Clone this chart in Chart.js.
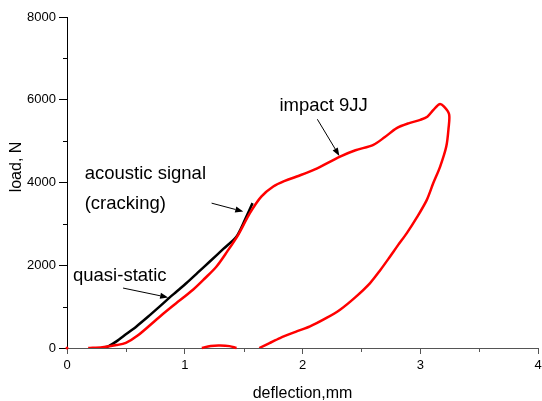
<!DOCTYPE html>
<html><head><meta charset="utf-8">
<script src="https://cdn.jsdelivr.net/npm/chart.js@4.4.1/dist/chart.umd.min.js"></script>
<style>html,body{margin:0;padding:0;background:#fff}</style>
</head><body>
<canvas id="c" width="542" height="401"></canvas>
<script>
// ---- data ----
const impactX = [0.18,0.30,0.42,0.50,0.60,0.79,0.90,1.07,1.17,1.27,1.36,1.454,1.553,1.65,1.752,1.85,1.951,2.10,2.319,2.45,2.602,2.70,2.80,2.90,3.00,3.06,3.112,3.163,3.20,3.245,3.24,3.221,3.169,3.11,3.056,2.97,2.886,2.81,2.744,2.66,2.574,2.45,2.319,2.20,2.064,1.95,1.809,1.72,1.633];
const impactY = [0,20,70,125,300,763,1020,1408,1680,1971,2330,2736,3260,3660,3903,4040,4144,4310,4627,4780,4910,5100,5313,5430,5513,5590,5755,5892,5840,5650,5300,4868,4385,3980,3581,3150,2777,2480,2212,1880,1570,1230,925,720,522,400,241,120,0];
const reboundX = [1.44,1.38,1.30,1.22,1.145];
const reboundY = [0,45,60,50,0];
const quasiX = [0.298,0.35,0.42,0.50,0.59,0.69,0.788,0.90,1.015,1.11,1.213,1.33,1.44,1.511,1.576];
const quasiY = [0,40,160,330,522,760,1005,1290,1570,1820,2091,2400,2695,3098,3501];
const xTickValues = [0,1,2,3,4];
const yTickValues = [0,2000,4000,6000,8000];
const xMinorTicks = [0.5,1.5,2.5,3.5];
const yMinorTicks = [1000,3000,5000,7000];
const xTitle = 'deflection,mm';
const yTitle = 'load, N';
// annotations: text anchors and arrows in data coordinates
const labels = [
  {lines:['impact 9JJ'], x:1.804, y:5718},
  {lines:['acoustic signal','(cracking)'], x:0.15, y:4081, dy:3351},
  {lines:['quasi-static'], x:0.051, y:1608}
];
const arrows = [
  {x1:2.126,y1:5529,x2:2.313,y2:4643},
  {x1:1.228,y1:3501,x2:1.497,y2:3298},
  {x1:0.476,y1:1449,x2:0.859,y2:1222}
];

const pts = (xs, ys) => xs.map((x,i)=>({x:x, y:ys[i]}));
const FONT = "'Liberation Sans', Arial, sans-serif";

const extras = {
  id:'extras',
  afterDraw(chart){
    const ctx = chart.ctx, xs = chart.scales.x, ys = chart.scales.y;
    const a = chart.chartArea;
    ctx.save();
    ctx.lineWidth = 1;
    ctx.strokeStyle = '#555';
    xMinorTicks.forEach(v=>{
      const px = Math.round(xs.getPixelForValue(v))+0.5;
      ctx.beginPath(); ctx.moveTo(px, a.bottom); ctx.lineTo(px, a.bottom+4); ctx.stroke();
    });
    ctx.strokeStyle = '#000';
    yMinorTicks.forEach(v=>{
      const py = Math.round(ys.getPixelForValue(v))+0.5;
      ctx.beginPath(); ctx.moveTo(a.left-4, py); ctx.lineTo(a.left, py); ctx.stroke();
    });
    ctx.fillStyle = '#000';
    ctx.font = '18.5px ' + FONT;
    ctx.textAlign = 'left';
    ctx.textBaseline = 'alphabetic';
    labels.forEach(l=>{
      const px = xs.getPixelForValue(l.x);
      ctx.fillText(l.lines[0], px, ys.getPixelForValue(l.y));
      if (l.lines[1]) ctx.fillText(l.lines[1], px, ys.getPixelForValue(l.dy));
    });
    arrows.forEach(r=>{
      const x1 = xs.getPixelForValue(r.x1), y1 = ys.getPixelForValue(r.y1);
      const x2 = xs.getPixelForValue(r.x2), y2 = ys.getPixelForValue(r.y2);
      const ang = Math.atan2(y2-y1, x2-x1);
      const hl = 8, hw = 3;
      const bx = x2 - hl*Math.cos(ang), by = y2 - hl*Math.sin(ang);
      ctx.strokeStyle = '#000'; ctx.lineWidth = 1;
      ctx.beginPath(); ctx.moveTo(x1,y1); ctx.lineTo(bx,by); ctx.stroke();
      ctx.beginPath();
      ctx.moveTo(x2,y2);
      ctx.lineTo(bx + hw*Math.sin(ang), by - hw*Math.cos(ang));
      ctx.lineTo(bx - hw*Math.sin(ang), by + hw*Math.cos(ang));
      ctx.closePath(); ctx.fill();
    });
    ctx.font = '16px ' + FONT;
    ctx.textAlign = 'center';
    ctx.textBaseline = 'alphabetic';
    ctx.fillText(xTitle, (a.left+a.right)/2, 398);
    ctx.save();
    ctx.translate(21, 167);
    ctx.rotate(-Math.PI/2);
    ctx.fillText(yTitle, 0, 0);
    ctx.restore();
    ctx.restore();
  }
};

new Chart(document.getElementById('c'), {
  type:'line',
  data:{datasets:[
    {data:pts(impactX, impactY), borderColor:'#ff0000', borderWidth:2.5, pointRadius:0, tension:0.3, fill:false},
    {data:pts(reboundX, reboundY), borderColor:'#ff0000', borderWidth:2.5, pointRadius:0, tension:0.4, fill:false, clip:false},
    {data:pts(quasiX, quasiY), borderColor:'#000000', borderWidth:2.5, pointRadius:0, tension:0.25, fill:false},
    {data:[{x:0,y:0}], showLine:false, pointRadius:1.5, pointBackgroundColor:'#ff0000', pointBorderWidth:0, clip:false}
  ]},
  options:{
    responsive:false, animation:false, devicePixelRatio:1,
    layout:{padding:{left:0,right:4,top:17,bottom:0}},
    plugins:{legend:{display:false}, tooltip:{enabled:false}},
    scales:{
      x:{type:'linear', min:0, max:4,
        afterBuildTicks(s){ s.ticks = xTickValues.map(v=>({value:v})); },
        afterFit(s){ s.height = 53; s.paddingLeft = 0; s.paddingRight = 0; },
        ticks:{font:{size:13, family:FONT}, color:'#000', padding:4, maxRotation:0, callback:(v)=>String(v)},
        grid:{drawOnChartArea:false, drawTicks:true, tickLength:6, tickColor:'#555'},
        border:{display:true, color:'#555', width:1}
      },
      y:{type:'linear', min:0, max:8000,
        afterBuildTicks(s){ s.ticks = yTickValues.map(v=>({value:v})); },
        afterFit(s){ s.width = 67; s.paddingTop = 0; s.paddingBottom = 0; },
        ticks:{font:{size:13, family:FONT}, color:'#000', padding:3, callback:(v)=>String(v)},
        grid:{drawOnChartArea:false, drawTicks:true, tickLength:8, tickColor:'#000'},
        border:{display:true, color:'#000', width:1}
      }
    }
  },
  plugins:[extras]
});
</script>
</body></html>
